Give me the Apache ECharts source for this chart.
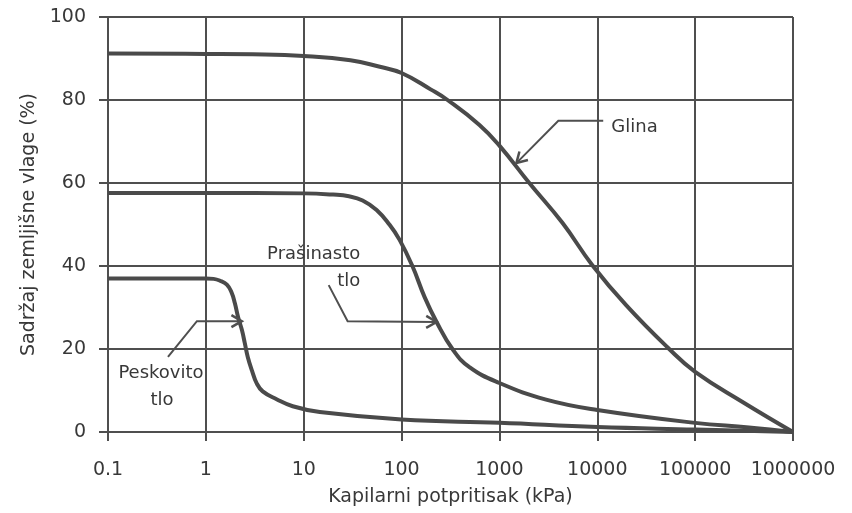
<!DOCTYPE html>
<html><head><meta charset="utf-8">
<script src="https://cdn.jsdelivr.net/npm/echarts@6/dist/echarts.min.js"></script>
<style>html,body{margin:0;padding:0;background:#fff}#c{width:852px;height:513px}</style>
</head><body><div id="c"></div>
<script>
// ---- data ----
const xTickValues = [0.1, 1, 10, 100, 1000, 10000, 100000, 1000000];
const yTickValues = [0, 20, 40, 60, 80, 100];

const pressureClay = [0.1, 1, 3, 10, 30, 60, 100, 200, 295, 625, 1000, 2020, 4400, 8900, 19800, 54300, 100000, 302000, 1000000];
const moistureClay = [91.2, 91.1, 91, 90.6, 89.6, 88, 86.5, 82.5, 80, 74, 69, 60, 50.4, 40.2, 30.5, 20, 14.5, 7.3, 0];

const pressureSilt = [0.1, 1, 10, 20, 29, 40, 55.6, 75, 95.5, 129, 172, 228, 331, 490, 1000, 3000, 10000, 100000, 355000, 1000000];
const moistureSilt = [57.6, 57.6, 57.5, 57.2, 56.8, 55.8, 53.5, 50, 46.3, 40, 32.5, 26.5, 20, 15.7, 11.8, 7.8, 5.3, 2.2, 1.1, 0];

const pressureSand = [0.1, 1, 1.2, 1.38, 1.64, 1.84, 1.98, 2.14, 2.34, 2.5, 2.68, 2.96, 3.31, 3.81, 5.28, 7.72, 14.6, 100, 1000, 10000, 100000, 1000000];
const moistureSand = [37, 37, 36.9, 36.5, 35.5, 33.5, 31, 27.6, 24.5, 21.4, 18.1, 14.8, 11.7, 9.8, 7.9, 6.2, 4.8, 3, 2.2, 1.2, 0.6, 0];

const xAxisTitle = 'Kapilarni potpritisak (kPa)';
const yAxisTitle = 'Sadržaj zemljišne vlage (%)';

// annotation anchors in data coordinates
const labelGlina = {lines: ['Glina'], at: [[24000, 73.5]], leader: [[11500, 75], [4000, 75], [1490, 64.8]]};
const labelSilt = {lines: ['Prašinasto', 'tlo'], at: [[12.65, 42.9], [28.8, 36.4]], leader: [[18, 35.4], [28.1, 26.7], [228, 26.5]]};
const labelSand = {lines: ['Peskovito', 'tlo'], at: [[0.348, 14.2], [0.356, 7.7]], leader: [[0.41, 18.1], [0.81, 26.7], [2.33, 26.7]]};

// ---- chart ----
const FONT = 'DejaVu Sans';
const INK = '#4f4f4f';
const TXT = '#383838';
const chart = echarts.init(document.getElementById('c'), null, {renderer: 'canvas'});

function zip(xs, ys) { return xs.map((x, i) => [x, ys[i]]); }
function fmt(v) { return v < 1 ? (Math.round(v * 10) / 10).toString() : String(Math.round(v)); }

function curve(name, xs, ys) {
  return {
    name, type: 'line', data: zip(xs, ys), showSymbol: false, symbol: 'none',
    smooth: 0.45,
    lineStyle: {color: '#4a4a4a', width: 4}, z: 5
  };
}

chart.setOption({
  animation: false,
  backgroundColor: '#fff',
  grid: {left: 108, right: 59, top: 17, bottom: 81, outerBoundsMode: 'none', containLabel: false},
  xAxis: {
    type: 'log', logBase: 10, min: xTickValues[0], max: xTickValues[xTickValues.length - 1],
    name: xAxisTitle, nameLocation: 'middle', nameGap: 56,
    nameTextStyle: {fontFamily: FONT, fontSize: 19, color: TXT},
    axisLine: {show: true, onZero: false, lineStyle: {color: INK, width: 2}},
    axisTick: {show: true, length: 9, lineStyle: {color: INK, width: 2}},
    axisLabel: {formatter: fmt, fontFamily: FONT, fontSize: 19, color: TXT, margin: 29},
    splitLine: {show: true, lineStyle: {color: INK, width: 2}}
  },
  yAxis: {
    type: 'value', min: yTickValues[0], max: yTickValues[yTickValues.length - 1], interval: 20,
    name: yAxisTitle, nameLocation: 'middle', nameGap: 56,
    nameTextStyle: {fontFamily: FONT, fontSize: 19, color: TXT},
    axisLine: {show: true, lineStyle: {color: INK, width: 2}},
    axisTick: {show: true, length: 9, lineStyle: {color: INK, width: 2}},
    axisLabel: {fontFamily: FONT, fontSize: 19, color: TXT, margin: 22},
    splitLine: {show: true, lineStyle: {color: INK, width: 2}}
  },
  series: [
    curve('Glina', pressureClay, moistureClay),
    curve('Prašinasto tlo', pressureSilt, moistureSilt),
    curve('Peskovito tlo', pressureSand, moistureSand)
  ]
});

function toPx(p) { return chart.convertToPixel({gridIndex: 0}, p); }

function annotation(a) {
  const els = [];
  a.lines.forEach((t, i) => {
    const p = toPx(a.at[i]);
    els.push({type: 'text', x: p[0], y: p[1], z: 10,
      style: {text: t, font: '18px "' + FONT + '"', fill: TXT, align: 'center', verticalAlign: 'middle'}});
  });
  const pts = a.leader.map(toPx);
  els.push({type: 'polyline', z: 10, shape: {points: pts}, style: {stroke: INK, lineWidth: 2, fill: null}});
  const tip = pts[pts.length - 1], prev = pts[pts.length - 2];
  const ang = Math.atan2(tip[1] - prev[1], tip[0] - prev[0]);
  const L = 12, spread = Math.PI / 6;
  const w1 = [tip[0] - L * Math.cos(ang - spread), tip[1] - L * Math.sin(ang - spread)];
  const w2 = [tip[0] - L * Math.cos(ang + spread), tip[1] - L * Math.sin(ang + spread)];
  els.push({type: 'polyline', z: 10, shape: {points: [w1, tip, w2]}, style: {stroke: INK, lineWidth: 2.5, fill: null}});
  return els;
}

chart.setOption({graphic: [].concat(annotation(labelGlina), annotation(labelSilt), annotation(labelSand))});
</script>
</body></html>
